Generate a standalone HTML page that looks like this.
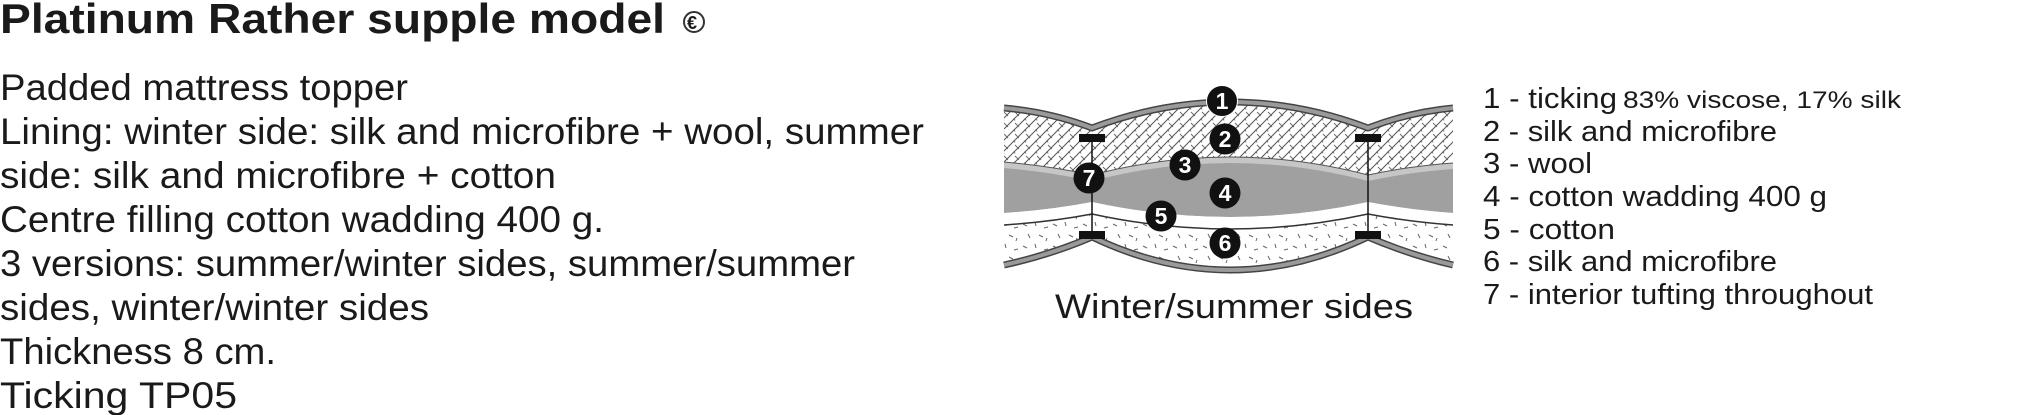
<!DOCTYPE html>
<html><head><meta charset="utf-8"><style>
html,body{margin:0;padding:0;background:#fff;}
svg{display:block;}
text{font-family:"Liberation Sans",Arial,sans-serif;fill:#1a1a1a;}
</style></head><body>
<svg width="2022" height="415" viewBox="0 0 2022 415" xmlns="http://www.w3.org/2000/svg">
<defs>
<pattern id="hatch" width="11" height="11" patternUnits="userSpaceOnUse">
<rect width="11" height="11" fill="#fff"/>
<path d="M0,11 L11,0 M-3,3 L3,-3 M8,14 L14,8" stroke="#555" stroke-width="1"/>
<path d="M3,2 L7,6 M2,8 L3,10.5" stroke="#666" stroke-width="0.9"/>
</pattern>
<pattern id="speck" width="30" height="22" patternUnits="userSpaceOnUse">
<rect width="30" height="22" fill="#fff"/>
<path d="M3,4 L7,6 M15,2 L16,6 M24,8 L28,7 M8,14 L10,18 M19,15 L23,17 M27,18 L26,21" stroke="#666" stroke-width="1"/>
</pattern>
</defs>

<text x="0" y="33" font-size="42" font-weight="bold" textLength="665" lengthAdjust="spacingAndGlyphs">Platinum Rather supple model</text>
<circle cx="694" cy="22" r="10" fill="none" stroke="#333" stroke-width="2"/>
<text x="687" y="29" font-size="18" font-weight="bold">€</text>

<text x="0" y="100" font-size="37" textLength="408" lengthAdjust="spacingAndGlyphs">Padded mattress topper</text>
<text x="0" y="144" font-size="37" textLength="924" lengthAdjust="spacingAndGlyphs">Lining: winter side: silk and microfibre + wool, summer</text>
<text x="0" y="188" font-size="37" textLength="556" lengthAdjust="spacingAndGlyphs">side: silk and microfibre + cotton</text>
<text x="0" y="232" font-size="37" textLength="604" lengthAdjust="spacingAndGlyphs">Centre filling cotton wadding 400 g.</text>
<text x="0" y="276" font-size="37" textLength="855" lengthAdjust="spacingAndGlyphs">3 versions: summer/winter sides, summer/summer</text>
<text x="0" y="320" font-size="37" textLength="429" lengthAdjust="spacingAndGlyphs">sides, winter/winter sides</text>
<text x="0" y="364" font-size="37" textLength="276" lengthAdjust="spacingAndGlyphs">Thickness 8 cm.</text>
<text x="0" y="408" font-size="37" textLength="237" lengthAdjust="spacingAndGlyphs">Ticking TP05</text>

<path d="M1004,108 Q1050,112 1092,128 Q1230,76 1368,128 Q1410,112 1453,108 L1453,265 Q1410,255 1368,237 Q1230,303 1092,237 Q1050,255 1004,265 Z" fill="url(#speck)"/>
<path d="M1004,108 Q1050,112 1092,128 Q1230,76 1368,128 Q1410,112 1453,108 L1453,163 Q1410,166 1368,175 Q1230,139 1092,175 Q1050,166 1004,162 Z" fill="url(#hatch)"/>
<path d="M1004,162 Q1050,166 1092,175 Q1230,139 1368,175 Q1410,166 1453,163 L1453,213 Q1410,210 1368,202 Q1230,232 1092,202 Q1050,210 1004,213 Z" fill="#c6c6c6"/>
<path d="M1004,168 Q1050,172 1092,181 Q1230,145 1368,181 Q1410,172 1453,169 L1453,213 Q1410,210 1368,202 Q1230,232 1092,202 Q1050,210 1004,213 Z" fill="#a0a0a0"/>
<path d="M1004,213 Q1050,210 1092,202 Q1230,232 1368,202 Q1410,210 1453,213 L1453,225 Q1410,222 1368,214 Q1230,244 1092,214 Q1050,222 1004,225 Z" fill="#fff"/>
<path d="M1004,225 Q1050,222 1092,214 Q1230,244 1368,214 Q1410,222 1453,225" fill="none" stroke="#333" stroke-width="1.5"/>
<path d="M1004,162 Q1050,166 1092,175 Q1230,139 1368,175 Q1410,166 1453,163" fill="none" stroke="#555" stroke-width="1"/>
<g fill="none" stroke-linejoin="round">
<path d="M1004,108 Q1050,112 1092,128 Q1230,76 1368,128 Q1410,112 1453,108" stroke="#444" stroke-width="7"/>
<path d="M1004,108 Q1050,112 1092,128 Q1230,76 1368,128 Q1410,112 1453,108" stroke="#9a9a9a" stroke-width="4"/>
<path d="M1004,265 Q1050,255 1092,237 Q1230,303 1368,237 Q1410,255 1453,265" stroke="#444" stroke-width="7"/>
<path d="M1004,265 Q1050,255 1092,237 Q1230,303 1368,237 Q1410,255 1453,265" stroke="#9a9a9a" stroke-width="4"/>
</g>
<g fill="#111">
<rect x="1079" y="134" width="26" height="8"/><rect x="1079" y="231" width="26" height="8"/>
<rect x="1355" y="134" width="26" height="8"/><rect x="1355" y="231" width="26" height="8"/>
</g>
<line x1="1092" y1="140" x2="1092" y2="233" stroke="#111" stroke-width="1.5"/>
<line x1="1368" y1="140" x2="1368" y2="233" stroke="#111" stroke-width="1.5"/>
<g font-size="23" font-weight="bold" text-anchor="middle">
<circle cx="1222" cy="101" r="15.5" fill="#111" stroke="#fff" stroke-width="1"/><text x="1222" y="109" style="fill:#fff">1</text>
<circle cx="1225" cy="139" r="15.5" fill="#111"/><text x="1225" y="147" style="fill:#fff">2</text>
<circle cx="1185" cy="165" r="15.5" fill="#111"/><text x="1185" y="173" style="fill:#fff">3</text>
<circle cx="1089" cy="178" r="15.5" fill="#111"/><text x="1089" y="186" style="fill:#fff">7</text>
<circle cx="1225" cy="193" r="15.5" fill="#111"/><text x="1225" y="201" style="fill:#fff">4</text>
<circle cx="1161" cy="216" r="15.5" fill="#111"/><text x="1161" y="224" style="fill:#fff">5</text>
<circle cx="1225" cy="243" r="15.5" fill="#111"/><text x="1225" y="251" style="fill:#fff">6</text>
</g>
<text x="1055" y="318" font-size="34" textLength="358" lengthAdjust="spacingAndGlyphs">Winter/summer sides</text>

<g font-size="29">
<text x="1483" y="108" textLength="134" lengthAdjust="spacingAndGlyphs">1 - ticking</text>
<text x="1623" y="108" font-size="24" textLength="278" lengthAdjust="spacingAndGlyphs">83% viscose, 17% silk</text>
<text x="1483" y="141" textLength="294" lengthAdjust="spacingAndGlyphs">2 - silk and microfibre</text>
<text x="1483" y="173" textLength="109" lengthAdjust="spacingAndGlyphs">3 - wool</text>
<text x="1483" y="206" textLength="344" lengthAdjust="spacingAndGlyphs">4 - cotton wadding 400 g</text>
<text x="1483" y="239" textLength="132" lengthAdjust="spacingAndGlyphs">5 - cotton</text>
<text x="1483" y="271" textLength="294" lengthAdjust="spacingAndGlyphs">6 - silk and microfibre</text>
<text x="1483" y="304" textLength="390" lengthAdjust="spacingAndGlyphs">7 - interior tufting throughout</text>
</g>
</svg>
</body></html>
